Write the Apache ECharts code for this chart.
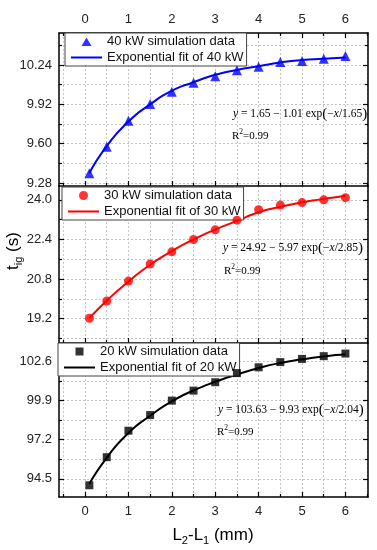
<!DOCTYPE html>
<html><head><meta charset="utf-8">
<script src="https://cdn.jsdelivr.net/npm/echarts@6/dist/echarts.min.js"></script>
<style>html,body{margin:0;padding:0;background:#fff}#c{width:377px;height:550px}</style>
</head><body><div id="c"></div>
<script>
// ---- data ----
const xValues = [0.1, 0.5, 1, 1.5, 2, 2.5, 3, 3.5, 4, 4.5, 5, 5.5, 6];
const sim40 = [9.36, 9.575, 9.787, 9.922, 10.023, 10.096, 10.148, 10.197, 10.226, 10.264, 10.273, 10.29, 10.313];
const fit40 = [9.36, 9.58, 9.78, 9.92, 10.03, 10.10, 10.16, 10.20, 10.23, 10.26, 10.28, 10.29, 10.30];
const sim30 = [19.22, 19.915, 20.72, 21.41, 21.90, 22.40, 22.79, 23.18, 23.60, 23.79, 23.89, 24.00, 24.09];
const fit30 = [19.22, 19.93, 20.70, 21.38, 21.93, 22.40, 22.80, 23.15, 23.50, 23.72, 23.90, 24.04, 24.17];
const sim20 = [94.05, 95.99, 97.82, 98.90, 99.90, 100.59, 101.17, 101.80, 102.20, 102.56, 102.78, 102.97, 103.15];
const fit20 = [94.15, 95.95, 97.66, 98.85, 99.85, 100.60, 101.20, 101.70, 102.15, 102.50, 102.75, 102.95, 103.10];
const xMajorTicks = [0, 1, 2, 3, 4, 5, 6];
const xMinorTicks = [-0.5, 0.5, 1.5, 2.5, 3.5, 4.5, 5.5, 6.5];
const yMajor40 = [9.28, 9.60, 9.92, 10.24];
const yMinor40 = [9.44, 9.76, 10.08, 10.40];
const yMajor30 = [19.2, 20.8, 22.4, 24.0];
const yMinor30 = [18.4, 20.0, 21.6, 23.2];
const yMajor20 = [94.5, 97.2, 99.9, 102.6];
const yMinor20 = [95.85, 98.55, 101.25];

// ---- chart ----
const SANS = '"Liberation Sans", Arial, sans-serif';
const SERIF = '"Liberation Serif", "Times New Roman", serif';
const chart = echarts.init(document.getElementById('c'));
const xMin = -0.6, xMax = 6.52;

// legend icons drawn in a 31x10 box (invisible corner points fix the box)
const BOX = 'path://M0,0Z M31,10Z ';
const ICON_LINE = BOX + 'M0,4 L31,4 L31,6 L0,6 Z';
const ICON_TRI = BOX + 'M10.5,9.5 L15.5,1 L20.5,9.5 Z';
const ICON_CIRCLE = BOX + 'M20,5 A4.5,4.5 0 1 1 11,5 A4.5,4.5 0 1 1 20,5 Z';
const ICON_RECT = BOX + 'M11.5,1 L19.5,1 L19.5,9 L11.5,9 Z';

const panels = [
  {top: 33, height: 153, min: 9.256, max: 10.5, major: yMajor40, minor: yMinor40, dec: 2, sim: sim40, fit: fit40,
   color: '#0000ff', symbol: 'triangle', symbolSize: 10, icon: ICON_TRI, simName: '40 kW simulation data', fitName: 'Exponential fit of 40 kW',
   legendLeft: 65, legendTop: 33},
  {top: 186, height: 157, min: 18.22, max: 24.56, major: yMajor30, minor: yMinor30, dec: 1, sim: sim30, fit: fit30,
   color: '#ff0000', symbol: 'circle', symbolSize: 9, icon: ICON_CIRCLE, simName: '30 kW simulation data', fitName: 'Exponential fit of 30 kW',
   legendLeft: 62, legendTop: 187},
  {top: 343, height: 154, min: 93.24, max: 103.88, major: yMajor20, minor: yMinor20, dec: 1, sim: sim20, fit: fit20,
   color: '#000000', symbol: 'rect', symbolSize: 8, icon: ICON_RECT, simName: '20 kW simulation data', fitName: 'Exponential fit of 20 kW',
   legendLeft: 58, legendTop: 343}
];

const split = {show: true, lineStyle: {color: '#c4c4c4', type: [2, 2], width: 1}};
const noSplit = {show: false};
const axLine = {show: true, onZero: false, lineStyle: {color: '#000', width: 1.5}};
const noLine = {show: false, onZero: false};
const lbl = {color: '#222', fontSize: 13, fontFamily: SANS};
function tick(vals, len) {
  return {show: true, inside: true, length: len, customValues: vals, lineStyle: {color: '#000', width: 1.2}};
}

const grid = [], xAxis = [], yAxis = [], series = [], legend = [];
panels.forEach((p, g) => {
  grid.push({left: 59, right: 9, top: p.top, height: p.height});
  const xi = xAxis.length;
  xAxis.push({type: 'value', gridIndex: g, position: 'bottom', min: xMin, max: xMax, axisLine: axLine,
    axisTick: tick(xMajorTicks, 5),
    axisLabel: Object.assign({show: g === 2, customValues: xMajorTicks, margin: 8}, lbl), splitLine: split});
  xAxis.push({type: 'value', gridIndex: g, position: 'bottom', min: xMin, max: xMax, axisLine: noLine,
    axisTick: tick(xMinorTicks, 3), axisLabel: {show: false}, splitLine: split});
  if (g === 0) {
    xAxis.push({type: 'value', gridIndex: g, position: 'top', min: xMin, max: xMax, axisLine: axLine,
      axisTick: tick(xMajorTicks, 5),
      axisLabel: Object.assign({show: true, customValues: xMajorTicks, margin: 7}, lbl), splitLine: noSplit});
    xAxis.push({type: 'value', gridIndex: g, position: 'top', min: xMin, max: xMax, axisLine: noLine,
      axisTick: tick(xMinorTicks, 3), axisLabel: {show: false}, splitLine: noSplit});
  }
  const yi = yAxis.length;
  yAxis.push({type: 'value', gridIndex: g, position: 'left', min: p.min, max: p.max, axisLine: axLine,
    axisTick: tick(p.major, 5),
    axisLabel: Object.assign({customValues: p.major, margin: 7, formatter: v => Number(v).toFixed(p.dec)}, lbl),
    splitLine: split});
  yAxis.push({type: 'value', gridIndex: g, position: 'left', min: p.min, max: p.max, axisLine: noLine,
    axisTick: tick(p.minor, 3), axisLabel: {show: false}, splitLine: split});
  yAxis.push({type: 'value', gridIndex: g, position: 'right', min: p.min, max: p.max, axisLine: axLine,
    axisTick: tick(p.major, 5), axisLabel: {show: false}, splitLine: noSplit});
  yAxis.push({type: 'value', gridIndex: g, position: 'right', min: p.min, max: p.max, axisLine: noLine,
    axisTick: tick(p.minor, 3), axisLabel: {show: false}, splitLine: noSplit});

  series.push({type: 'line', name: p.fitName, xAxisIndex: xi, yAxisIndex: yi,
    data: xValues.map((x, i) => [x, p.fit[i]]), smooth: 0.6, symbol: 'none',
    lineStyle: {color: p.color, width: 2}, itemStyle: {color: p.color}, z: 3, animation: false});
  series.push({type: 'scatter', name: p.simName, xAxisIndex: xi, yAxisIndex: yi,
    data: xValues.map((x, i) => [x, p.sim[i]]), symbol: p.symbol, symbolSize: p.symbolSize,
    itemStyle: {color: p.color}, z: 4, animation: false});
  legend.push({data: [{name: p.simName, icon: p.icon}, {name: p.fitName, icon: ICON_LINE}],
    orient: 'vertical', left: p.legendLeft, top: p.legendTop,
    itemWidth: 31, itemHeight: 10, itemGap: 3, padding: [2, 3, 2, 6],
    backgroundColor: '#fff', borderColor: '#444', borderWidth: 1, borderRadius: 0,
    textStyle: {color: '#111', fontSize: 13, fontFamily: SANS}, selectedMode: false});
});

const eqRich = {
  i: {fontStyle: 'italic', fontFamily: SERIF, fontSize: 11.5, color: '#222'},
  p: {fontFamily: SERIF, fontSize: 15, color: '#222'},
  n: {fontFamily: SERIF, fontSize: 11.5, color: '#222'}
};
const r2Rich = {
  n: {fontFamily: SERIF, fontSize: 11, color: '#222', lineHeight: 14, verticalAlign: 'bottom'},
  s: {fontFamily: SERIF, fontSize: 7.5, color: '#222', lineHeight: 14, verticalAlign: 'top'}
};
function eq(x, y, a, b, c) {
  return {type: 'text', x: x, y: y, z: 10, style: {
    text: '{i|y}{n| = ' + a + ' \u2212 ' + b + ' exp}{p|(}{n|\u2212}{i|x}{n|/' + c + '}{p|)}',
    rich: eqRich, verticalAlign: 'middle', align: 'left'}};
}
function r2(x, y) {
  return {type: 'text', x: x, y: y, z: 10, style: {text: '{n|R}{s|2}{n|=0.99}', rich: r2Rich,
    verticalAlign: 'middle', align: 'left'}};
}
const subRich = {
  m: {fontFamily: SANS, fontSize: 17, color: '#111', lineHeight: 22, verticalAlign: 'middle'},
  sub: {fontFamily: SANS, fontSize: 11, color: '#111', lineHeight: 22, verticalAlign: 'bottom'}
};

chart.setOption({
  animation: false,
  grid: grid, xAxis: xAxis, yAxis: yAxis, series: series, legend: legend,
  graphic: [
    eq(233, 114, '1.65', '1.01', '1.65'), r2(232, 135),
    eq(223, 248, '24.92', '5.97', '2.85'), r2(224, 270),
    eq(218, 410, '103.63', '9.93', '2.04'), r2(217, 431),
    {type: 'text', x: 13, y: 251, rotation: Math.PI / 2, z: 10,
     style: {text: '{m|t}{sub|ig}{m| (s)}', rich: subRich, align: 'center', verticalAlign: 'middle'}},
    {type: 'text', x: 213, y: 535, z: 10,
     style: {text: '{m|L}{sub|2}{m|-L}{sub|1}{m| (mm)}', rich: subRich, align: 'center', verticalAlign: 'middle'}}
  ]
});
</script>
</body></html>
